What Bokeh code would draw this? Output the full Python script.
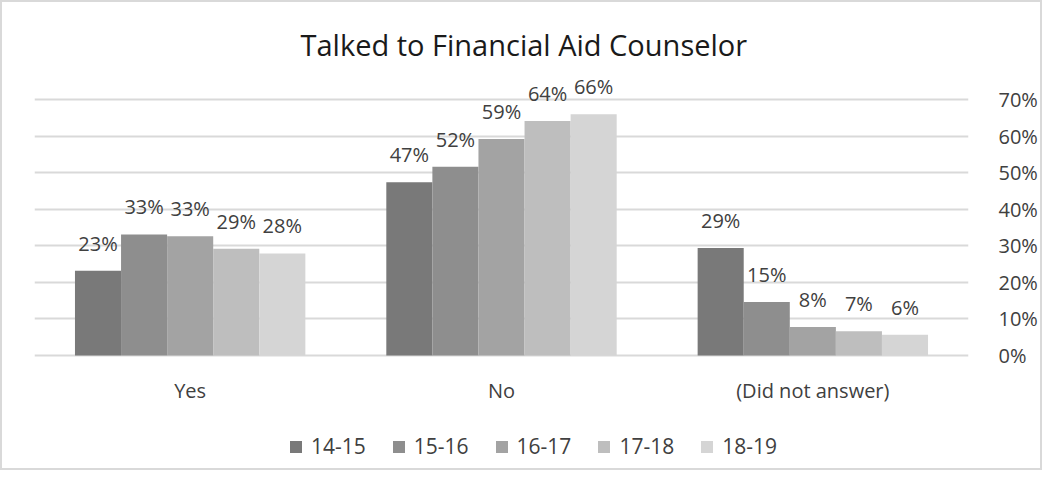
from bokeh.plotting import figure
from bokeh.layouts import column
from bokeh.models import (ColumnDataSource, FactorRange, LinearAxis, Range1d,
                          NumeralTickFormatter, LabelSet, Legend, LegendItem, FixedTicker)
from bokeh.transform import dodge
from bokeh.core.properties import value
from bokeh.embed import file_html
from bokeh.resources import INLINE

categories = ["Yes", "No", "(Did not answer)"]
years = ["14-15", "15-16", "16-17", "17-18", "18-19"]
v_14_15 = [0.232, 0.474, 0.294]
v_15_16 = [0.331, 0.516, 0.146]
v_16_17 = [0.326, 0.592, 0.078]
v_17_18 = [0.292, 0.641, 0.066]
v_18_19 = [0.279, 0.660, 0.057]
series = [v_14_15, v_15_16, v_16_17, v_17_18, v_18_19]
colors = ["#797979", "#8e8e8e", "#a3a3a3", "#bebebe", "#d5d5d5"]
y_ticks = [0, 0.1, 0.2, 0.3, 0.4, 0.5, 0.6, 0.7]

FONT = "Open Sans"
TXT = "#404040"

# layout (pixels): frame spans from y=70 to y=466; 0% at y=355, 70% at y=99
px_per_unit = (355 - 99) / 0.7
y_start = -(466 - 355) / px_per_unit
y_end = (355 - 70) / px_per_unit

p = figure(width=1038, height=466, x_range=FactorRange(*categories, range_padding=0),
           y_range=Range1d(y_start, y_end), output_backend="svg", toolbar_location=None,
           title="Talked to Financial Aid Counselor",
           min_border_left=32, min_border_right=72, min_border_top=68, min_border_bottom=2)
p.outline_line_color = None

p.title.align = "left"
p.title.offset = 266
p.title.text_font = FONT
p.title.text_font_size = "29px"
p.title.text_font_style = "normal"
p.title.text_color = "#1a1a1a"
p.title.standoff = 14

bw = 0.148
offsets = [-2 * bw, -bw, 0, bw, 2 * bw]
items = []
for yr, vals, col, off in zip(years, series, colors, offsets):
    src = ColumnDataSource(dict(cat=categories, val=vals,
                                lbl=[f"{round(v * 100)}%" for v in vals]))
    r = p.vbar(x=dodge("cat", off, range=p.x_range), top="val", width=bw, source=src,
               fill_color=col, line_color=None)
    items.append(LegendItem(label=yr, renderers=[r]))
    p.add_layout(LabelSet(x=dodge("cat", off, range=p.x_range), y="val", text="lbl",
                          source=src, text_align="center", text_baseline="bottom",
                          y_offset=14, text_font=value(FONT), text_font_size=value("20px"),
                          text_color=TXT))

# category names under the bars, placed through the categorical scale
cat_src = ColumnDataSource(dict(cat=categories, y=[0] * len(categories)))
p.add_layout(LabelSet(x="cat", y="y", text="cat", source=cat_src, text_align="center",
                      text_baseline="middle", y_offset=-35, text_font=value(FONT),
                      text_font_size=value("20px"), text_color=TXT))
p.xaxis.visible = False

p.yaxis.visible = False
ax = LinearAxis(ticker=FixedTicker(ticks=y_ticks), formatter=NumeralTickFormatter(format="0%"))
ax.axis_line_color = None
ax.major_tick_line_color = None
ax.minor_tick_line_color = None
ax.major_label_text_font = FONT
ax.major_label_text_font_size = "20px"
ax.major_label_text_color = TXT
ax.major_label_standoff = 24
p.add_layout(ax, "right")

p.xgrid.grid_line_color = None
p.ygrid.ticker = FixedTicker(ticks=y_ticks)
p.ygrid.grid_line_color = "#d9d9d9"
p.ygrid.grid_line_width = 2

legend = Legend(items=items, orientation="horizontal", location=(254, 6),
                label_text_font=FONT, label_text_font_size="21px", label_text_color=TXT,
                glyph_width=15, glyph_height=15, label_standoff=8, spacing=25,
                padding=0, margin=0, border_line_color=None, background_fill_alpha=0)
p.add_layout(legend, "center")

page = column(p, styles={"border": "2px solid #d9d9d9"})
open("out.html", "w").write(file_html(page, INLINE))
